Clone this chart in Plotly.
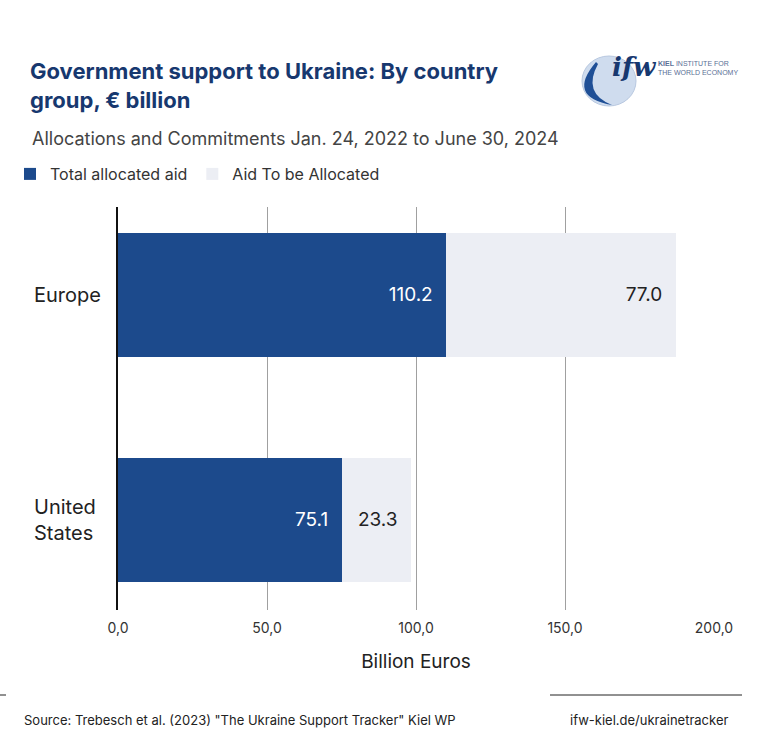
import plotly.graph_objects as go

categories = ["Europe", "United States"]
category_labels = ["Europe", "United<br>States"]
allocated = [110.2, 75.1]
to_allocate = [77.0, 23.3]
x_ticks = [0, 50, 100, 150, 200]

DARK = "#1c4a8c"
LIGHT = "#eceef4"
FONT = "Inter"

# plot-area geometry in pixels
L, R, T, B = 118, 714, 207, 610
W, H = 775, 741


def px(x):
    return (x - L) / (R - L)


def py(y):
    return (B - y) / (B - T)


fig = go.Figure()
fig.add_trace(go.Bar(
    y=categories, x=allocated, orientation="h", name="Total allocated aid",
    marker=dict(color=DARK, line=dict(width=0)),
    text=[f"{v:.1f}\u00a0\u00a0" for v in allocated], textposition="inside",
    insidetextanchor="end", textfont=dict(color="white", size=19, family=FONT),
    width=0.55,
))
fig.add_trace(go.Bar(
    y=categories, x=to_allocate, orientation="h", name="Aid To be Allocated",
    marker=dict(color=LIGHT, line=dict(width=0)),
    text=[f"{v:.1f}\u00a0\u00a0" for v in to_allocate], textposition="inside",
    insidetextanchor="end", textfont=dict(color="#222222", size=19, family=FONT),
    width=0.55,
))

fig.update_layout(
    width=W, height=H, barmode="stack",
    paper_bgcolor="white", plot_bgcolor="white",
    margin=dict(l=L, r=W - R, t=T, b=H - B, autoexpand=False),
    separators=",.",
    font=dict(family=FONT, color="#222222"),
    title=dict(
        text="<b>Government support to Ukraine: By country<br>group, € billion</b>",
        x=30 / W, xanchor="left", xref="container",
        y=1 - 79 / H, yanchor="top", yref="container",
        font=dict(size=22, color="#17386f", family=FONT),
    ),
    legend=dict(
        orientation="h", x=px(10), xanchor="left",
        y=py(174), yanchor="middle",
        font=dict(size=16, color="#333333", family=FONT),
        traceorder="normal", itemclick=False, itemdoubleclick=False,
    ),
    showlegend=True,
    xaxis=dict(
        range=[0, 200], tickvals=x_ticks, tickformat=".1f",
        showgrid=True, gridcolor="#a0a0a0", gridwidth=1,
        zeroline=False, showline=False,
        tickfont=dict(size=14, color="#333333"), ticks="",
        ticklabelstandoff=8,
        title=dict(text="Billion Euros", font=dict(size=19, color="#222222"), standoff=19),
        fixedrange=True,
    ),
    yaxis=dict(
        categoryorder="array", categoryarray=["United States", "Europe"],
        range=[-0.4, 1.391], showticklabels=False, showgrid=False,
        showline=True, linecolor="#111111", linewidth=2, zeroline=False,
        fixedrange=True,
    ),
)

# y category labels, left aligned
for cat, label in zip(categories, category_labels):
    fig.add_annotation(text=label, x=px(32), xref="paper", y=cat, yref="y",
                       showarrow=False, xanchor="left", align="left",
                       font=dict(size=20, color="#222222"))

# subtitle
fig.add_annotation(text="Allocations and Commitments Jan. 24, 2022 to June 30, 2024",
                   x=px(30), xref="paper", y=py(138), yref="paper",
                   showarrow=False, xanchor="left", yanchor="middle",
                   font=dict(size=18, color="#444444"))

# footer
fig.add_annotation(text="Source: Trebesch et al. (2023) \"The Ukraine Support Tracker\" Kiel WP",
                   x=px(22), xref="paper", y=py(720), yref="paper",
                   showarrow=False, xanchor="left", yanchor="middle",
                   font=dict(size=13, color="#222222"))
fig.add_annotation(text="ifw-kiel.de/ukrainetracker",
                   x=px(730), xref="paper", y=py(720), yref="paper",
                   showarrow=False, xanchor="right", yanchor="middle",
                   font=dict(size=13, color="#222222"))
fig.add_shape(type="line", xref="paper", yref="paper", x0=px(0), x1=px(6),
              y0=py(695), y1=py(695), line=dict(color="#222222", width=1))
fig.add_shape(type="line", xref="paper", yref="paper", x0=px(550), x1=px(742),
              y0=py(695), y1=py(695), line=dict(color="#222222", width=1))

# logo (approximation)
fig.add_shape(type="circle", xref="paper", yref="paper",
              x0=px(582), x1=px(636), y0=py(106), y1=py(56),
              fillcolor="#cfdcee", line=dict(color="#b8c8e0", width=1), layer="above")
fig.add_shape(type="path", xref="paper", yref="paper",
              path=f"M {px(596)},{py(62)} Q {px(566)},{py(97)} {px(612)},{py(105)} "
                   f"Q {px(582)},{py(93)} {px(598)},{py(64)} Z",
              fillcolor="#1f4f96", line=dict(width=0), layer="above")
fig.add_annotation(text="<b><i>ifw</i></b>", x=px(610), xref="paper", y=py(67), yref="paper",
                   showarrow=False, xanchor="left", yanchor="middle",
                   font=dict(size=26, color="#17386f", family="DejaVu Serif"))
fig.add_annotation(text="<b>KIEL</b> INSTITUTE FOR<br>THE WORLD ECONOMY",
                   x=px(656), xref="paper", y=py(68), yref="paper",
                   showarrow=False, xanchor="left", yanchor="middle", align="left",
                   font=dict(size=7, color="#5a6f95", family="Liberation Sans"))

fig.write_html("out.html", post_script="document.body.style.margin='0';",
               config={"displayModeBar": False})
